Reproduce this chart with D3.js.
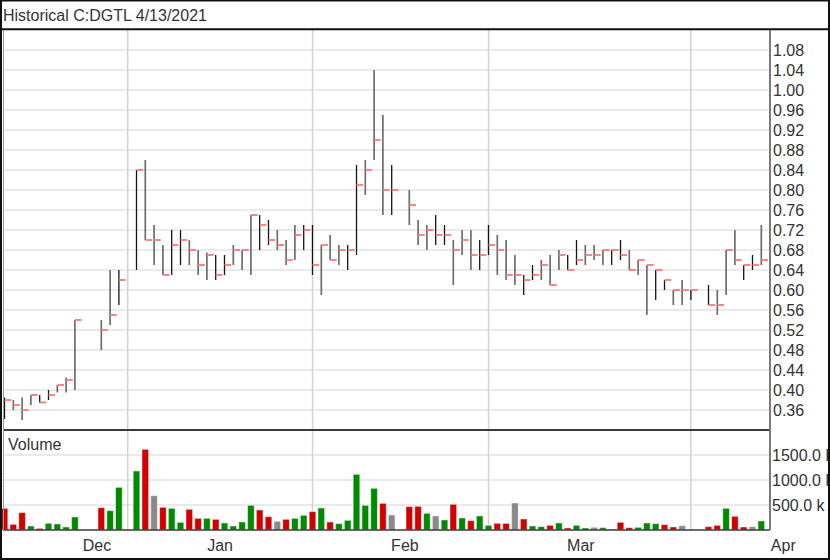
<!DOCTYPE html>
<html><head><meta charset="utf-8">
<script src="https://cdn.jsdelivr.net/npm/d3@7"></script>
<style>
html,body{margin:0;padding:0;background:#fff;}
svg{display:block;}
text{font-family:"Liberation Sans",Arial,sans-serif;}
</style>
</head><body>
<svg id="chart" width="830" height="560"></svg>
<script>
// Trading days (weekdays) shown on the chart; holidays have no data (null)
const days = [
 "2020-12-14","2020-12-15","2020-12-16","2020-12-17","2020-12-18","2020-12-21","2020-12-22","2020-12-23","2020-12-24","2020-12-25","2020-12-28","2020-12-29","2020-12-30","2020-12-31",
 "2021-01-01","2021-01-04","2021-01-05","2021-01-06","2021-01-07","2021-01-08","2021-01-11","2021-01-12","2021-01-13","2021-01-14","2021-01-15","2021-01-18","2021-01-19","2021-01-20","2021-01-21","2021-01-22","2021-01-25","2021-01-26","2021-01-27","2021-01-28","2021-01-29",
 "2021-02-01","2021-02-02","2021-02-03","2021-02-04","2021-02-05","2021-02-08","2021-02-09","2021-02-10","2021-02-11","2021-02-12","2021-02-15","2021-02-16","2021-02-17","2021-02-18","2021-02-19","2021-02-22","2021-02-23","2021-02-24","2021-02-25","2021-02-26",
 "2021-03-01","2021-03-02","2021-03-03","2021-03-04","2021-03-05","2021-03-08","2021-03-09","2021-03-10","2021-03-11","2021-03-12","2021-03-15","2021-03-16","2021-03-17","2021-03-18","2021-03-19","2021-03-22","2021-03-23","2021-03-24","2021-03-25","2021-03-26","2021-03-29","2021-03-30","2021-03-31",
 "2021-04-01","2021-04-02","2021-04-05","2021-04-06","2021-04-07","2021-04-08","2021-04-09","2021-04-12","2021-04-13"
];
const high = [
 0.385,0.38,0.385,0.39,0.39,0.40,0.41,0.425,0.54,null,null,0.54,0.64,0.64,
 null,0.84,0.86,0.73,0.69,0.72,0.72,0.70,0.68,0.675,0.67,0.67,0.69,0.68,0.75,0.75,0.74,0.72,0.70,0.73,0.73,
 0.73,0.69,0.71,0.69,0.69,0.85,0.86,1.04,0.95,0.85,null,0.80,0.74,0.73,0.75,0.73,0.70,0.72,0.72,0.70,
 0.73,0.71,0.70,0.67,0.63,0.65,0.66,0.67,0.68,0.67,0.70,0.69,0.69,0.68,0.68,0.70,0.68,0.66,0.65,0.64,0.62,0.60,0.62,
 0.60,null,0.61,0.60,0.68,0.72,0.65,0.67,0.73
];
const low = [
 0.342,0.36,0.34,0.37,0.375,0.38,0.395,0.395,0.40,null,null,0.48,0.53,0.57,
 null,0.64,0.70,0.65,0.63,0.63,0.65,0.65,0.63,0.62,0.62,0.63,0.65,0.64,0.63,0.68,0.69,0.68,0.65,0.66,0.68,
 0.63,0.59,0.66,0.65,0.64,0.67,0.79,0.86,0.75,0.75,null,0.73,0.69,0.68,0.69,0.69,0.61,0.67,0.64,0.64,
 0.67,0.63,0.62,0.61,0.59,0.62,0.62,0.61,0.64,0.64,0.65,0.65,0.66,0.65,0.65,0.66,0.64,0.63,0.55,0.58,0.60,0.57,0.57,
 0.58,null,0.57,0.55,0.59,0.65,0.62,0.64,0.65
];
const close = [
 0.38,0.37,0.36,0.39,0.375,0.39,0.41,0.42,0.54,null,null,0.52,0.55,0.62,
 null,0.84,0.70,0.70,0.63,0.69,0.70,0.68,0.65,0.67,0.63,0.65,0.68,0.68,0.75,0.73,0.70,0.69,0.66,0.71,0.72,
 0.65,0.69,0.66,0.68,0.68,0.81,0.84,0.90,0.80,0.80,null,0.77,0.71,0.72,0.71,0.71,0.68,0.70,0.67,0.67,
 0.69,0.68,0.63,0.63,0.62,0.63,0.65,0.61,0.67,0.64,0.66,0.67,0.67,0.68,0.68,0.67,0.64,0.66,0.65,0.64,0.62,0.60,0.60,
 0.60,null,0.57,0.57,0.68,0.66,0.65,0.65,0.66
];
const volume = [
 433000,113000,347000,80000,33000,133000,120000,60000,260000,null,null,447000,387000,853000,
 null,1180000,1613000,687000,453000,433000,153000,413000,233000,233000,213000,140000,80000,160000,493000,400000,267000,173000,213000,233000,293000,
 367000,440000,160000,127000,193000,1113000,493000,833000,533000,300000,null,467000,473000,333000,280000,200000,513000,240000,187000,280000,
 93000,133000,133000,540000,220000,80000,67000,93000,140000,40000,93000,40000,53000,47000,20000,153000,47000,53000,140000,127000,107000,60000,87000,
 0,null,67000,93000,433000,273000,60000,67000,180000
];
// day direction vs previous close: u = up, d = down, f = unchanged
const direction = [
 "d","d","d","u","d","u","u","u","u",null,null,"d","u","u",
 null,"u","d","f","d","u","u","d","d","u","d","u","u","u","u","d","d","f","d","u","u",
 "d","u","d","u","u","u","u","u","d","f",null,"d","d","u","f","u","d","u","d","u",
 "u","d","d","f","d","u","u","d","u","d","u","u","f","u","f","d","d","u","u","u","d","d","f",
 "f",null,"d","d","u","d","d","f","u"
];
// 1 = dark range bar, 0 = light range bar (as shown in the picture)
const barTone = [
 1,0,0,0,1,1,0,0,0,null,null,0,0,1,
 null,1,0,0,0,1,1,0,0,0,1,1,0,0,0,1,1,0,0,0,1,
 1,0,0,0,1,1,0,0,0,1,null,0,0,0,1,1,0,0,0,1,
 1,0,0,0,1,1,0,0,0,1,1,0,0,0,1,1,0,0,0,1,1,0,0,
 1,null,1,0,0,0,1,1,0
];
const priceTicks = [0.36,0.40,0.44,0.48,0.52,0.56,0.60,0.64,0.68,0.72,0.76,0.80,0.84,0.88,0.92,0.96,1.00,1.04,1.08];
const volumeTicks = [500000,1000000,1500000];
const monthLabels = ["Dec","Jan","Feb","Mar","Apr"];
const monthLabelSlots = [10.5,24.5,45.5,65.5,88.5];
const monthStarts = ["2021-01-01","2021-02-01","2021-03-01","2021-04-01"];
const title = "Historical C:DGTL 4/13/2021";

const W = 830, H = 560;
const svg = d3.select("#chart");
const x = d3.scaleLinear().domain([0, days.length - 1]).range([4.5, 761.3]);
const y = d3.scaleLinear().domain([0.32, 1.118]).range([430, 31]);
const yv = d3.scaleLinear().domain([0, 2000000]).range([530, 430]);
const plotL = 3, plotR = 770;

svg.append("rect").attr("width", W).attr("height", H).attr("fill", "#fff");

// grid
const grid = svg.append("g");
grid.selectAll("line.hp").data(priceTicks).join("line")
  .attr("x1", plotL).attr("x2", plotR)
  .attr("y1", d => y(d)).attr("y2", d => y(d))
  .attr("stroke", "#e3e3e3").attr("stroke-width", 1.6);
grid.selectAll("line.hv").data(volumeTicks).join("line")
  .attr("x1", plotL).attr("x2", plotR)
  .attr("y1", d => yv(d)).attr("y2", d => yv(d))
  .attr("stroke", "#e3e3e3").attr("stroke-width", 1.6);
grid.selectAll("line.vm").data(monthStarts.map(m => days.indexOf(m))).join("line")
  .attr("x1", d => x(d)).attr("x2", d => x(d))
  .attr("y1", 30).attr("y2", 530)
  .attr("stroke", "#d2d2d2").attr("stroke-width", 1.5);

const idx = d3.range(days.length).filter(i => high[i] != null);

// volume bars
const volColor = {u: "#008a00", d: "#d20000", f: "#8a8a8a"};
svg.append("g").selectAll("rect").data(idx.filter(i => volume[i] > 0)).join("rect")
  .attr("x", i => x(i) - 3.3).attr("width", 6.6)
  .attr("y", i => yv(volume[i])).attr("height", i => yv(0) - yv(volume[i]))
  .attr("fill", i => volColor[direction[i]])
  .attr("stroke", "rgba(255,255,255,0.45)").attr("stroke-width", 1);

// high-low bars
svg.append("g").selectAll("line").data(idx).join("line")
  .attr("x1", i => x(i)).attr("x2", i => x(i))
  .attr("y1", i => y(high[i])).attr("y2", i => y(low[i]))
  .attr("stroke", i => barTone[i] ? "#151515" : "#6e6e6e")
  .attr("stroke-width", i => barTone[i] ? 1.3 : 1.7);
// close ticks
svg.append("g").selectAll("line").data(idx).join("line")
  .attr("x1", i => x(i)).attr("x2", i => x(i) + 6.7)
  .attr("y1", i => y(close[i])).attr("y2", i => y(close[i]))
  .attr("stroke", "#ff7878").attr("stroke-width", 1.8);

// panel lines
svg.append("line").attr("x1", plotL).attr("x2", plotR).attr("y1", 430).attr("y2", 430)
  .attr("stroke", "#3a3a3a").attr("stroke-width", 2);
svg.append("line").attr("x1", plotL).attr("x2", plotR).attr("y1", 530).attr("y2", 530)
  .attr("stroke", "#3a3a3a").attr("stroke-width", 1.6);
svg.append("line").attr("x1", 3.5).attr("x2", 3.5).attr("y1", 30).attr("y2", 530)
  .attr("stroke", "#9a9a9a").attr("stroke-width", 1);
svg.append("line").attr("x1", plotR).attr("x2", plotR).attr("y1", 30).attr("y2", 530)
  .attr("stroke", "#7a7a7a").attr("stroke-width", 2);

// right axes
const pAxis = svg.append("g").attr("transform", `translate(${plotR},0)`)
  .call(d3.axisRight(y).tickValues(priceTicks).tickFormat(d3.format(".2f")).tickSize(0).tickPadding(3));
const vAxis = svg.append("g").attr("transform", `translate(${plotR},0)`)
  .call(d3.axisRight(yv).tickValues(volumeTicks).tickFormat(d => d3.format(".1f")(d / 1000) + " k").tickSize(0).tickPadding(2));
[pAxis, vAxis].forEach(g => {
  g.select(".domain").remove();
  g.selectAll("text").attr("font-size", 16).attr("fill", "#333")
    .attr("font-family", '"Liberation Sans",Arial,sans-serif');
});

// month labels
svg.append("g").selectAll("text").data(monthLabels).join("text")
  .attr("x", (d, i) => x(monthLabelSlots[i])).attr("y", 551)
  .attr("text-anchor", "middle").attr("font-size", 16).attr("fill", "#333")
  .text(d => d);

svg.append("text").attr("x", 8).attr("y", 450).attr("font-size", 16).attr("fill", "#333").text("Volume");

// title bar
svg.append("text").attr("x", 3).attr("y", 20.5).attr("font-size", 16).attr("fill", "#333").text(title);
svg.append("line").attr("x1", 0).attr("x2", W).attr("y1", 29.2).attr("y2", 29.2)
  .attr("stroke", "#111").attr("stroke-width", 2);

// outer frame
svg.append("rect").attr("x", 1).attr("y", 0.5).attr("width", W - 2).attr("height", H - 1.5)
  .attr("fill", "none").attr("stroke", "#111").attr("stroke-width", 2);
</script>
</body></html>
